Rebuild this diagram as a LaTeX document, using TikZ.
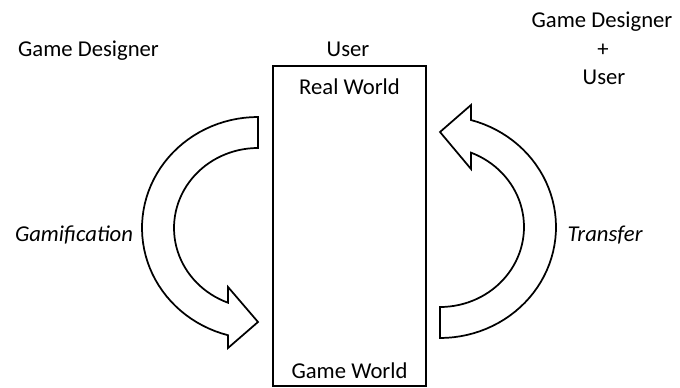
\documentclass[tikz,border=0pt]{standalone}
\usepackage{fontspec}
\setmainfont{Carlito}
\usetikzlibrary{positioning}

\begin{document}
\begin{tikzpicture}[x=0.75pt,y=-0.75pt]
        \tikzstyle{txt} = [font=\fontsize{17}{21}\selectfont, anchor=base, inner sep=0pt]
        \tikzstyle{world} = [draw, line width=1.3pt, rectangle, minimum width=114.75pt, minimum height=240pt]
        \tikzstyle{bigarrow} = [draw, line width=1.3pt, fill=white, line join=miter]

        \useasboundingbox (0,0) rectangle (680,388);

        \node [world] (box) at (349.5,226) {};
        \node [txt] (real) at (349.5,95) {Real World};
        \node [txt] (game) at (349.5,378) {Game World};
        \node [txt] (user) at (348,57) {User};
        \node [txt] (designer) at (88.5,57) {Game Designer};
        \node [txt] (both) at (602,28) {Game Designer};
        \node [txt] (plus) at (603,56.5) {+};
        \node [txt] (bothuser) at (604,85) {User};
        \node [txt] (gamif) at (74,241) {\itshape Gamification};
        \node [txt] (transfer) at (605,241) {\itshape Transfer};

        % real world -> game world
        \draw [bigarrow] plot[domain=270:105, samples=50] ({258+116*cos(\x)},{228+111*sin(\x)})
            -- (228,348) -- (258,322) -- (228,287)
            -- plot[domain=111:270, samples=50] ({258+84*cos(\x)},{228+80*sin(\x)}) -- cycle;
        % game world -> real world
        \draw [bigarrow] plot[domain=90:-74.5, samples=50] ({440+116*cos(\x)},{227+111*sin(\x)})
            -- (471,105) -- (440,132) -- (471,169)
            -- plot[domain=-68.3:90, samples=50] ({440+84*cos(\x)},{227+80*sin(\x)}) -- cycle;
\end{tikzpicture}
\end{document}
